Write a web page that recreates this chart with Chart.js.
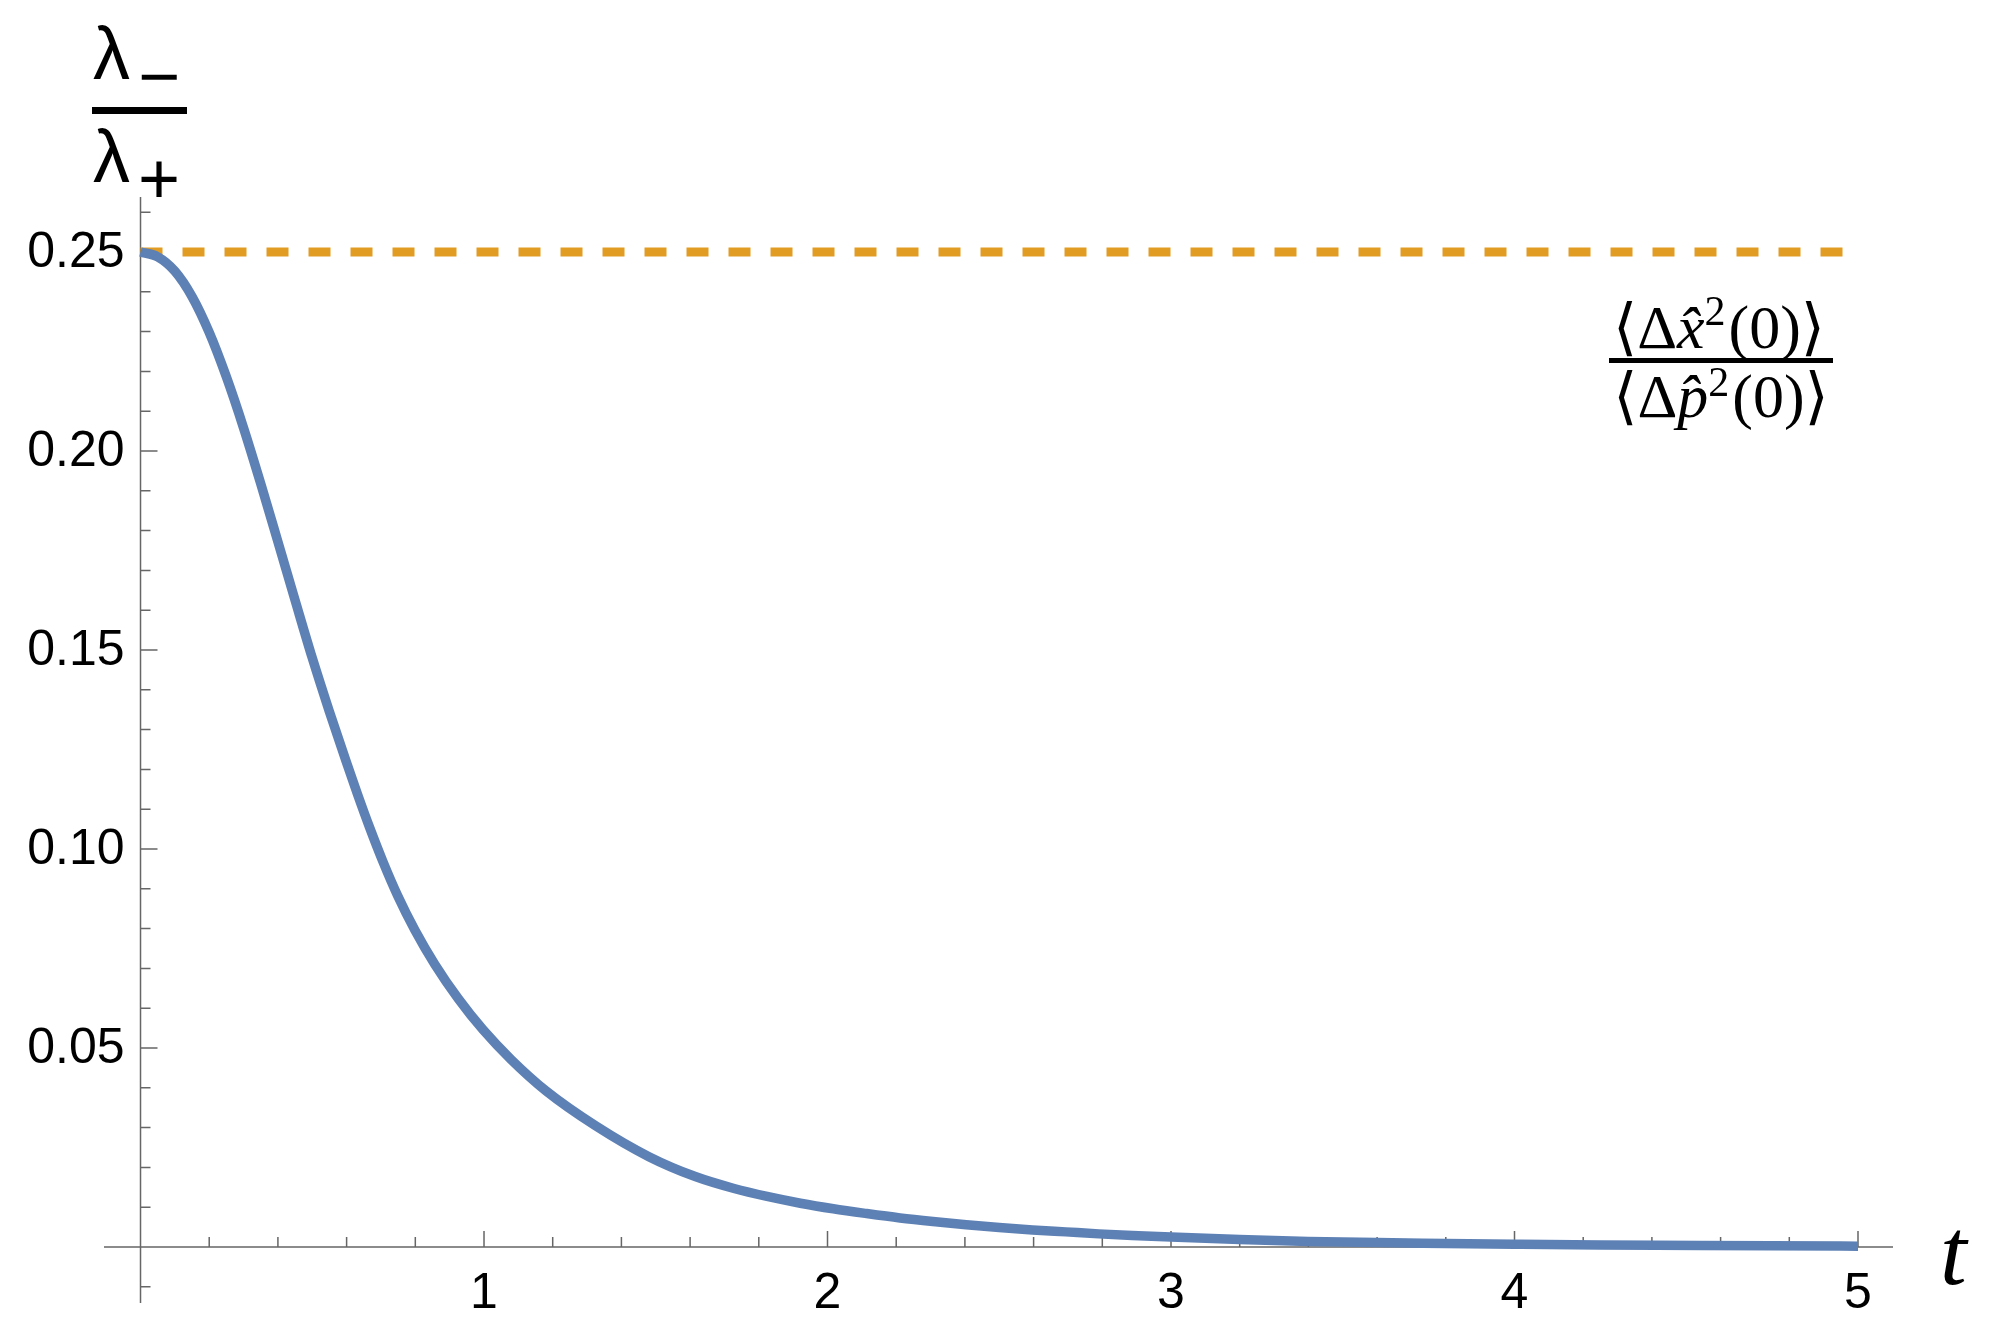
<!DOCTYPE html>
<html>
<head>
<meta charset="utf-8">
<script src="https://cdn.jsdelivr.net/npm/chart.js@4.4.1/dist/chart.umd.min.js"></script>
<style>
  html, body { margin: 0; padding: 0; background: #fff; }
  #mycanvas { display: block; }
</style>
</head>
<body>
<canvas id="mycanvas" width="2000" height="1334"></canvas>
<script>
// values
var tValues = [0, 0.05, 0.1, 0.15, 0.2, 0.25, 0.3, 0.35, 0.4, 0.45,
  0.5, 0.55, 0.599, 0.632, 0.667, 0.705, 0.748, 0.799, 0.857, 0.925,
  0.997, 1.079, 1.181, 1.326, 1.48, 1.615, 1.728, 1.824, 1.921, 2.017,
  2.114, 2.211, 2.307, 2.404, 2.5, 2.597, 2.694, 2.79, 2.887, 3.0,
  3.2, 3.4, 3.6, 3.8, 4.0, 4.25, 4.54, 5.0];
var ratioValues = [0.25, 0.2488, 0.2452, 0.2388, 0.2298, 0.2186, 0.2058, 0.1918, 0.1772, 0.1625,
  0.148, 0.1345, 0.1219, 0.1137, 0.1054, 0.097, 0.0884, 0.0796, 0.071, 0.0624,
  0.0546, 0.0471, 0.0392, 0.0304, 0.0227, 0.0177, 0.0147, 0.0127, 0.011, 0.0096,
  0.0084, 0.0073, 0.0064, 0.0056, 0.0049, 0.0043, 0.0038, 0.0033, 0.0029, 0.0025,
  0.0019, 0.0014, 0.0011, 0.0009, 0.0007, 0.0005, 0.0004, 0.0002];
var refT = [0, 5];
var refLevel = [0.25, 0.25];

var xTickValues = [1, 2, 3, 4, 5];
var xTickLabels = ['1', '2', '3', '4', '5'];
var yTickValues = [0.05, 0.10, 0.15, 0.20, 0.25];
var yTickLabels = ['0.05', '0.10', '0.15', '0.20', '0.25'];

var blue = '#5e81b5';
var orange = '#e19c24';
var axisGray = '#666666';

var curvePts = [];
for (var i in tValues) curvePts.push({x: tValues[i], y: ratioValues[i]});
var refPts = [];
for (var j in refT) refPts.push({x: refT[j], y: refLevel[j]});

function drawParts(ctx, parts, cx, baseline) {
  var total = 0;
  parts.forEach(function(p) { ctx.font = p.f; p.w = ctx.measureText(p.t).width; total += p.w + (p.gap || 0); });
  var xx = cx - total / 2;
  parts.forEach(function(p) {
    ctx.font = p.f;
    ctx.fillText(p.t, xx, baseline + (p.dy || 0));
    xx += p.w + (p.gap || 0);
  });
}

var mmaAxes = {
  id: 'mmaAxes',
  beforeDatasetsDraw: function(chart) {
    var ctx = chart.ctx, area = chart.chartArea;
    var xs = chart.scales.x, ys = chart.scales.y;
    var x0 = xs.getPixelForValue(0), y0 = ys.getPixelForValue(0);
    ctx.save();
    ctx.strokeStyle = axisGray;
    ctx.lineWidth = 1.5;
    ctx.beginPath();
    ctx.moveTo(area.left, y0); ctx.lineTo(area.right, y0);
    ctx.moveTo(x0, area.top); ctx.lineTo(x0, area.bottom);
    // x ticks every 0.2, pointing up
    for (var k = 1; k <= 25; k++) {
      var px = xs.getPixelForValue(k * 0.2);
      var len = (k % 5 === 0) ? 16 : 10;
      ctx.moveTo(px, y0); ctx.lineTo(px, y0 - len);
    }
    // y ticks every 0.01, pointing right
    for (var m = -1; m <= 26; m++) {
      if (m === 0) continue;
      var py = ys.getPixelForValue(m * 0.01);
      var ylen = (m % 5 === 0) ? 17 : 10;
      ctx.moveTo(x0, py); ctx.lineTo(x0 + ylen, py);
    }
    ctx.stroke();
    ctx.restore();
  },
  afterDraw: function(chart) {
    var ctx = chart.ctx;
    var xs = chart.scales.x, ys = chart.scales.y;
    var x0 = xs.getPixelForValue(0), y0 = ys.getPixelForValue(0);
    ctx.save();
    ctx.fillStyle = '#000';
    ctx.textBaseline = 'alphabetic';

    // tick labels
    ctx.font = '50px "Liberation Sans", Arial, sans-serif';
    ctx.textAlign = 'right';
    yTickValues.forEach(function(v, i) {
      ctx.fillText(yTickLabels[i], x0 - 16, ys.getPixelForValue(v) + 15);
    });
    ctx.textAlign = 'center';
    xTickValues.forEach(function(v, i) {
      ctx.fillText(xTickLabels[i], xs.getPixelForValue(v), y0 + 61);
    });

    // axis label t
    ctx.textAlign = 'left';
    ctx.font = 'italic 96px "Liberation Serif", serif';
    ctx.fillText('t', 1940, 1284);

    // y title  lambda_- / lambda_+
    ctx.font = '74px "Liberation Sans", Arial, sans-serif';
    ctx.fillText('λ', 93, 79);
    ctx.fillText('λ', 93, 182);
    ctx.font = '72px "Liberation Sans", Arial, sans-serif';
    ctx.fillText('\u2212', 138, 101);
    ctx.fillText('+', 138, 203);
    ctx.fillRect(92, 107, 95, 7);

    // annotation fraction
    var serif = '"Liberation Serif", "DejaVu Serif", serif';
    ctx.textAlign = 'left';
    drawParts(ctx, [
      {t: '\u27E8\u0394', f: '62px ' + serif},
      {t: 'x\u0302', f: 'italic 62px ' + serif},
      {t: '2', f: '42px ' + serif, dy: -23, gap: 3},
      {t: '(0)\u27E9', f: '62px ' + serif}
    ], 1719, 348);
    drawParts(ctx, [
      {t: '\u27E8\u0394', f: '62px ' + serif},
      {t: 'p\u0302', f: 'italic 62px ' + serif},
      {t: '2', f: '42px ' + serif, dy: -21, gap: 3},
      {t: '(0)\u27E9', f: '62px ' + serif}
    ], 1721, 417);
    ctx.fillRect(1609, 358, 224, 5);
    ctx.restore();
  }
};

var ctx = document.getElementById('mycanvas');
var chart = new Chart(ctx, {
  type: 'line',
  data: {
    datasets: [
      {
        label: 'reference',
        data: refPts,
        borderColor: orange,
        borderWidth: 9,
        borderDash: [22, 20],
        borderCapStyle: 'butt',
        pointRadius: 0,
        fill: false,
        order: 2
      },
      {
        label: 'lambda ratio',
        data: curvePts,
        borderColor: blue,
        borderWidth: 9.5,
        cubicInterpolationMode: 'monotone',
        borderCapStyle: 'butt',
        pointRadius: 0,
        fill: false,
        order: 1
      }
    ]
  },
  options: {
    responsive: false,
    animation: false,
    devicePixelRatio: 1,
    layout: { padding: { left: 104, right: 107, top: 197, bottom: 31 } },
    plugins: { legend: { display: false }, tooltip: { enabled: false } },
    scales: {
      x: { type: 'linear', min: -0.1063, max: 5.1019, display: false },
      y: { type: 'linear', min: -0.01407, max: 0.26382, display: false }
    }
  },
  plugins: [mmaAxes]
});
</script>
</body>
</html>
